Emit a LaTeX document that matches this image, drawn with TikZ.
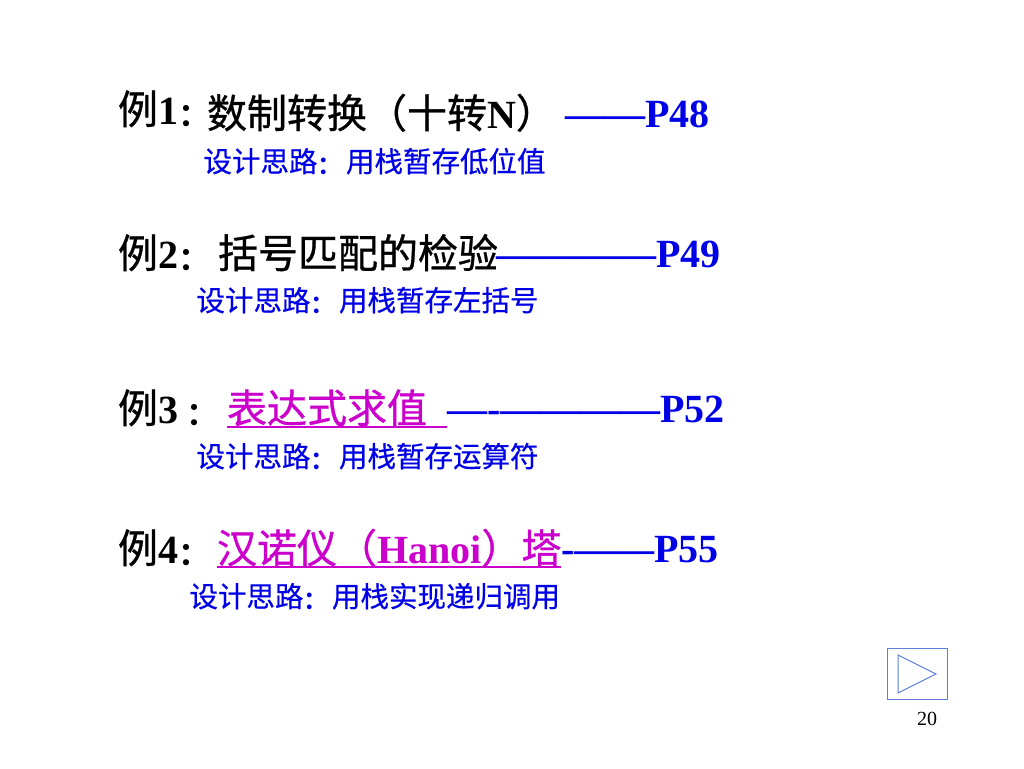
\documentclass[tikz,border=0pt]{standalone}
\usepackage{fontspec}
\setmainfont{Liberation Serif}
\newfontfamily\cjk{Noto Sans CJK SC}[FakeBold=0.8]
\newfontfamily\cjksubf{Noto Sans CJK SC}[FakeBold=0.5]
\newfontfamily\cjkcolon{Noto Sans CJK SC Bold}
\definecolor{refblue}{HTML}{0000E6}
\definecolor{refmag}{HTML}{CC00CC}
\definecolor{refnav}{HTML}{5F7FE0}
\newcommand{\headfont}{\fontsize{40}{42}\selectfont\rmfamily\bfseries}
\newcommand{\cjkhead}{\fontsize{40}{42}\selectfont\cjk}
\newcommand{\cjksub}{\fontsize{28.5}{30}\selectfont\cjksubf}
\newcommand{\hcolon}{\raisebox{-2.5pt}{\makebox[20pt][l]{\fontsize{32}{34}\selectfont\cjkcolon ：}}}
\newcommand{\scolon}{\raisebox{-2pt}{\makebox[28.5pt][l]{\fontsize{25}{27}\selectfont\cjkcolon ：}}}
\tikzset{
  txt/.style={anchor=base west,inner sep=0pt,outer sep=0pt},
  head/.style={txt,text=black,font=\cjkhead},
  topic/.style={txt,text=refmag,font=\cjkhead},
  ref/.style={txt,text=refblue,font=\headfont},
  sub/.style={txt,text=refblue,font=\cjksub},
  uline/.style={draw=refmag,line width=1.6pt},
  navbox/.style={draw=refnav,line width=1pt,fill=white},
}
\begin{document}
\begin{tikzpicture}[x=1pt,y=-1pt]
\useasboundingbox (0,0) rectangle (1024,768);
% Example 1
\node[head] (e1) at (118,124) {例{\headfont 1}\hcolon};
\node[head] (t1) at (207,128) {数制转换（十转{\headfont N}）};
\node[ref] (r1) at (565,127) {——P48};
\node[sub] (s1) at (203.5,172) {设计思路\scolon 用栈暂存低位值};
% Example 2
\node[head] (e2) at (118,268) {例{\headfont 2}\hcolon};
\node[head] (t2) at (218,268) {括号匹配的检验};
\node[ref] (r2) at (496.5,267) {————P49};
\node[sub] (s2) at (196.5,311) {设计思路\scolon 用栈暂存左括号};
% Example 3
\node[head] (e3) at (118,423) {例{\headfont 3} \hcolon};
\node[topic] (t3) at (227,423) {表达式求值};
\coordinate (u3s) at (227,427);
\coordinate (u3e) at (447,427);
\draw[uline] (u3s) -- (u3e);
\node[ref] (r3) at (447,422) {—-————P52};
\node[sub] (s3) at (196.5,467) {设计思路\scolon 用栈暂存运算符};
% Example 4
\node[head] (e4) at (118,563) {例{\headfont 4}\hcolon};
\node[topic] (t4) at (217,563) {汉诺仪（{\headfont Hanoi}）塔};
\coordinate (u4s) at (217,567);
\coordinate (u4e) at (561,567);
\draw[uline] (u4s) -- (u4e);
\node[ref] (r4) at (561,562) {-——P55};
\node[sub] (s4) at (189.5,607) {设计思路\scolon 用栈实现递归调用};
% Navigation button
\draw[navbox] (887.5,648.5) rectangle (947.5,699.5);
\draw[navbox] (898,655) -- (936,674) -- (898,693) -- cycle;
\node[txt,font=\fontsize{20}{22}\selectfont,text=black] (pg) at (917,725) {20};
\end{tikzpicture}
\end{document}
